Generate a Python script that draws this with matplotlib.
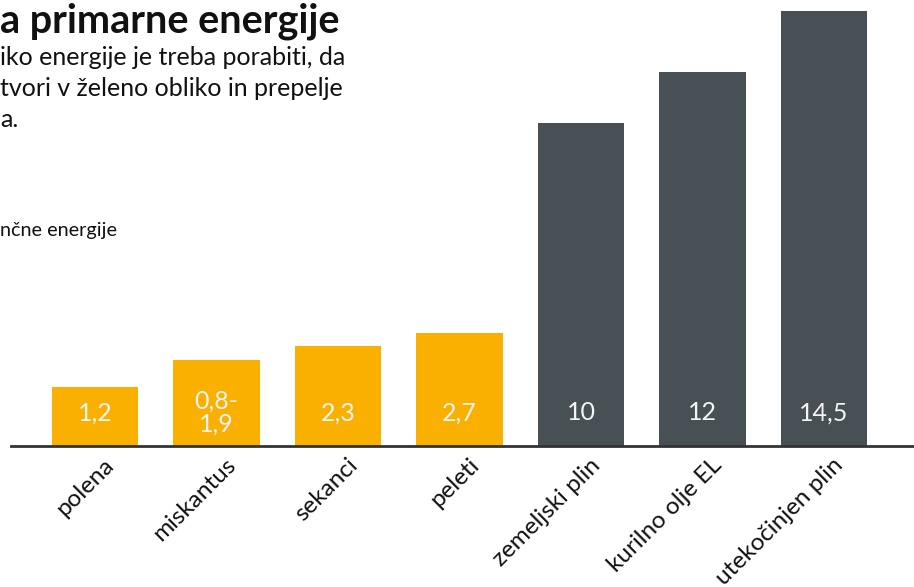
import numpy as np
import matplotlib.pyplot as plt
from matplotlib.transforms import ScaledTranslation

plt.rcParams['font.family'] = ['Lato', 'DejaVu Sans']

# energy carriers and their primary energy factor
categories = ['polena', 'miskantus', 'sekanci', 'peleti',
              'zemeljski plin', 'kurilno olje EL', 'utekočinjen plin']
values = [1.2, 1.9, 2.3, 2.7, 10, 12, 14.5]
value_labels = ['1,2', '0,8-\n1,9', '2,3', '2,7', '10', '12', '14,5']
renewable = [True, True, True, True, False, False, False]

ORANGE = '#F9B000'
SLATE = '#475155'

W, H = 914, 587
fig = plt.figure(figsize=(W / 100, H / 100), dpi=100)

# bars sit on a compressed (power) scale
p = 0.8
ax = fig.add_axes([11 / W, (H - 446) / H, 1 - 11 / W, 446 / H])
ax.set_yscale('function', functions=(lambda v: np.sign(v) * np.abs(v) ** p,
                                     lambda t: np.sign(t) * np.abs(t) ** (1 / p)))

x = np.arange(len(categories))
colors = [ORANGE if r else SLATE for r in renewable]
ax.bar(x, values, width=0.71, color=colors, zorder=2)

ax.set_xlim(-0.691, 6.741)
ax.set_ylim(0, 14.5 * (446 / 435) ** (1 / p))

for xi, lab in zip(x, value_labels):
    ax.annotate(lab, xy=(xi, 0), xytext=(0, 24), textcoords='offset points',
                ha='center', va='center', color='#F4F4F4', fontsize=18,
                linespacing=1.0, zorder=3)

for s in ['left', 'right', 'top']:
    ax.spines[s].set_visible(False)
ax.spines['bottom'].set_color('#333333')
ax.spines['bottom'].set_linewidth(2)
ax.set_yticks([])
ax.tick_params(axis='x', length=0, pad=0)
ax.set_xticks(x)
ax.set_xticklabels(categories, rotation=45, ha='right', va='center',
                   rotation_mode='anchor', fontsize=17.5, color='#111111')
shift = ScaledTranslation(16 / 100, -16 / 100, fig.dpi_scale_trans)
for t in ax.get_xticklabels():
    t.set_transform(t.get_transform() + shift)

# heading and explanatory text
fig.text(0 / W, 1 - 32 / H, 'a primarne energije', fontsize=28.5,
         fontweight='bold', color='#111111', va='baseline', ha='left')
lines = ['iko energije je treba porabiti, da',
         'tvori v želeno obliko in prepelje',
         'a.']
for i, ln in enumerate(lines):
    fig.text(0, 1 - (65 + 31 * i) / H, ln, fontsize=18, color='#111111',
             va='baseline', ha='left')
fig.text(0, 1 - 236 / H, 'nčne energije', fontsize=14.3, color='#111111',
         va='baseline', ha='left')

fig.savefig('out.png', dpi=100)
